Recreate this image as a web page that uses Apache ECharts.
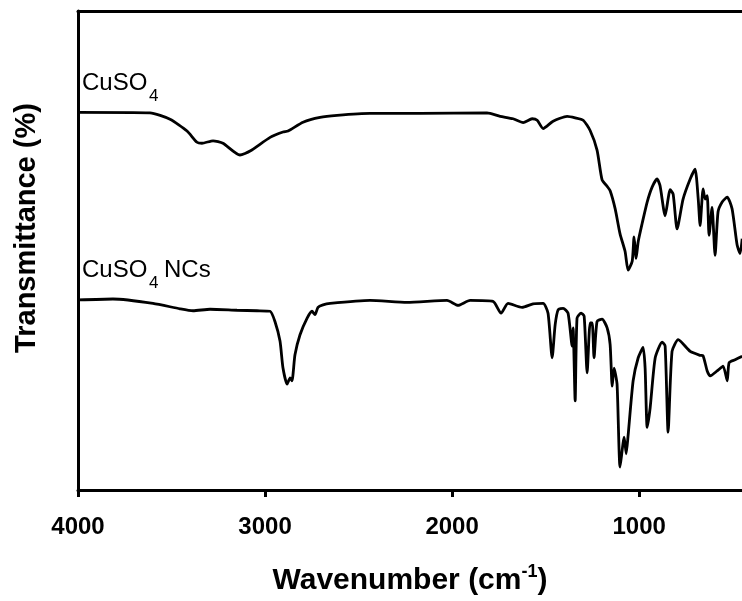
<!DOCTYPE html>
<html>
<head>
<meta charset="utf-8">
<script src="https://cdn.jsdelivr.net/npm/echarts@6/dist/echarts.min.js"></script>
<style>
html,body{margin:0;padding:0;background:#fff;}
#c{width:742px;height:601px;}
</style>
</head>
<body>
<div id="c"></div>
<script>
// Wavenumber (cm^-1) values and transmittance (arbitrary units)
var cuso4Wn = [4000,3615,3508,3417,3364,3337,3278,3225,3134,3080,2973,2904,2877,2797,2706,2615,2439,2171,1813,1743,1674,1620,1572,1545,1513,1460,1385,1342,1299,1262,1225,1198,1171,1155,1128,1102,1075,1059,1037,1027,1016,1005,984,957,930,904,888,861,834,818,797,765,727,701,684,674,658,647,636,626,610,594,578,556,529,503,476,460,449];
var cuso4T = [77.1,77.0,75.7,73.3,71.0,70.8,71.3,70.8,68.4,69.2,72.0,73.1,73.3,75.1,76.1,76.5,76.9,76.9,77.0,76.3,75.8,75.0,75.8,75.5,73.8,75.3,76.3,76.0,75.5,73.4,69.4,63.3,62.0,61.1,57.4,52.3,48.7,44.9,46.7,51.7,47.3,50.7,54.4,58.8,61.9,63.5,62.1,56.0,61.3,60.4,53.3,59.4,63.5,65.5,59.4,54.0,61.5,59.4,60.1,52.0,57.7,47.9,56.8,58.8,59.8,57.4,50.0,48.3,51.3];

var ncsWn = [4000,3813,3599,3455,3385,3294,3150,3043,2973,2947,2920,2904,2882,2866,2856,2840,2813,2775,2749,2733,2717,2690,2652,2439,2241,2027,1968,1904,1781,1738,1701,1626,1567,1513,1487,1465,1449,1433,1406,1380,1358,1353,1342,1332,1310,1294,1278,1262,1251,1241,1225,1198,1171,1155,1144,1134,1118,1102,1080,1069,1059,1032,1005,979,968,957,941,914,877,861,845,824,791,727,674,658,636,620,583,551,529,519,487,449];
var ncsT = [38.8,39.0,38.1,37.0,36.6,36.9,36.7,36.6,36.5,34.4,30.4,24.9,21.6,22.9,22.3,27.6,31.7,35.1,36.5,35.8,37.3,37.8,38.1,38.7,38.3,38.7,37.7,38.7,38.5,36.1,38.1,37.3,38.0,38.1,36.1,27.0,33.7,36.8,37.1,36.1,29.4,33.1,18.2,35.1,36.1,35.5,23.9,34.1,34.1,27.0,34.4,34.9,33.1,29.7,21.2,24.9,21.6,4.7,10.8,7.4,11.1,22.3,27.0,29.1,24.9,12.8,16.8,27.0,30.2,29.4,11.8,28.3,30.7,28.3,27.5,27.4,24.3,23.3,24.3,25.3,22.3,26.0,26.6,27.3];

var xTicks = [4000, 3000, 2000, 1000];
var seriesNames = ['CuSO4', 'CuSO4 NCs'];

function pairs(xs, ys) { return xs.map(function (x, i) { return [x, ys[i]]; }); }

var FONT = '"Liberation Sans", Arial, sans-serif';
var chart = echarts.init(document.getElementById('c'), null, {renderer: 'canvas'});
var lineStyle = {color: '#000', width: 2.8};

chart.setOption({
  animation: false,
  backgroundColor: '#fff',
  grid: {left: 78, top: 11, right: 0, bottom: 108},
  xAxis: [{
    type: 'value', min: 450, max: 4000, inverse: true,
    axisLine: {show: true, onZero: false, lineStyle: {color: '#000', width: 3}},
    axisTick: {show: true, inside: false, length: 7, customValues: xTicks, lineStyle: {color: '#000', width: 3}},
    axisLabel: {show: true, customValues: xTicks, margin: 25, color: '#000', fontFamily: FONT, fontWeight: 'bold', fontSize: 24,
      formatter: function (v) { return String(v); }},
    splitLine: {show: false},
    name: '{a|Wavenumber (cm}{s|-1}{a|)}',
    nameLocation: 'middle', nameGap: 73,
    nameTextStyle: {
      rich: {
        a: {fontFamily: FONT, fontWeight: 'bold', fontSize: 30, color: '#000', lineHeight: 36},
        s: {fontFamily: FONT, fontWeight: 'bold', fontSize: 18, color: '#000', verticalAlign: 'top', lineHeight: 36}
      }
    }
  }, {
    type: 'value', min: 450, max: 4000, inverse: true, position: 'top',
    axisLine: {show: true, onZero: false, lineStyle: {color: '#000', width: 3}},
    axisTick: {show: false}, axisLabel: {show: false}, splitLine: {show: false}
  }],
  yAxis: {
    type: 'value', min: 0, max: 97.8,
    axisLine: {show: true, onZero: false, lineStyle: {color: '#000', width: 3}},
    axisTick: {show: false}, axisLabel: {show: false}, splitLine: {show: false}
  },
  series: [
    {name: seriesNames[0], type: 'line', data: pairs(cuso4Wn, cuso4T), showSymbol: false, smooth: 0.2, lineStyle: lineStyle, z: 3},
    {name: seriesNames[1], type: 'line', data: pairs(ncsWn, ncsT), showSymbol: false, smooth: 0.2, lineStyle: lineStyle, z: 3}
  ],
  graphic: [
    {type: 'text', x: 27, y: 228, rotation: Math.PI / 2,
      style: {text: 'Transmittance (%)', font: 'bold 29px ' + FONT, fill: '#000', textAlign: 'center', textVerticalAlign: 'middle'}},
    {type: 'text', x: 82, y: 83, style: {text: 'CuSO', font: '24px ' + FONT, fill: '#000', textAlign: 'left', textVerticalAlign: 'middle'}},
    {type: 'text', x: 149, y: 96, style: {text: '4', font: '17px ' + FONT, fill: '#000', textAlign: 'left', textVerticalAlign: 'middle'}},
    {type: 'text', x: 82, y: 270, style: {text: 'CuSO', font: '24px ' + FONT, fill: '#000', textAlign: 'left', textVerticalAlign: 'middle'}},
    {type: 'text', x: 149, y: 283, style: {text: '4', font: '17px ' + FONT, fill: '#000', textAlign: 'left', textVerticalAlign: 'middle'}},
    {type: 'text', x: 164, y: 270, style: {text: 'NCs', font: '24px ' + FONT, fill: '#000', textAlign: 'left', textVerticalAlign: 'middle'}}
  ]
});
</script>
</body>
</html>
